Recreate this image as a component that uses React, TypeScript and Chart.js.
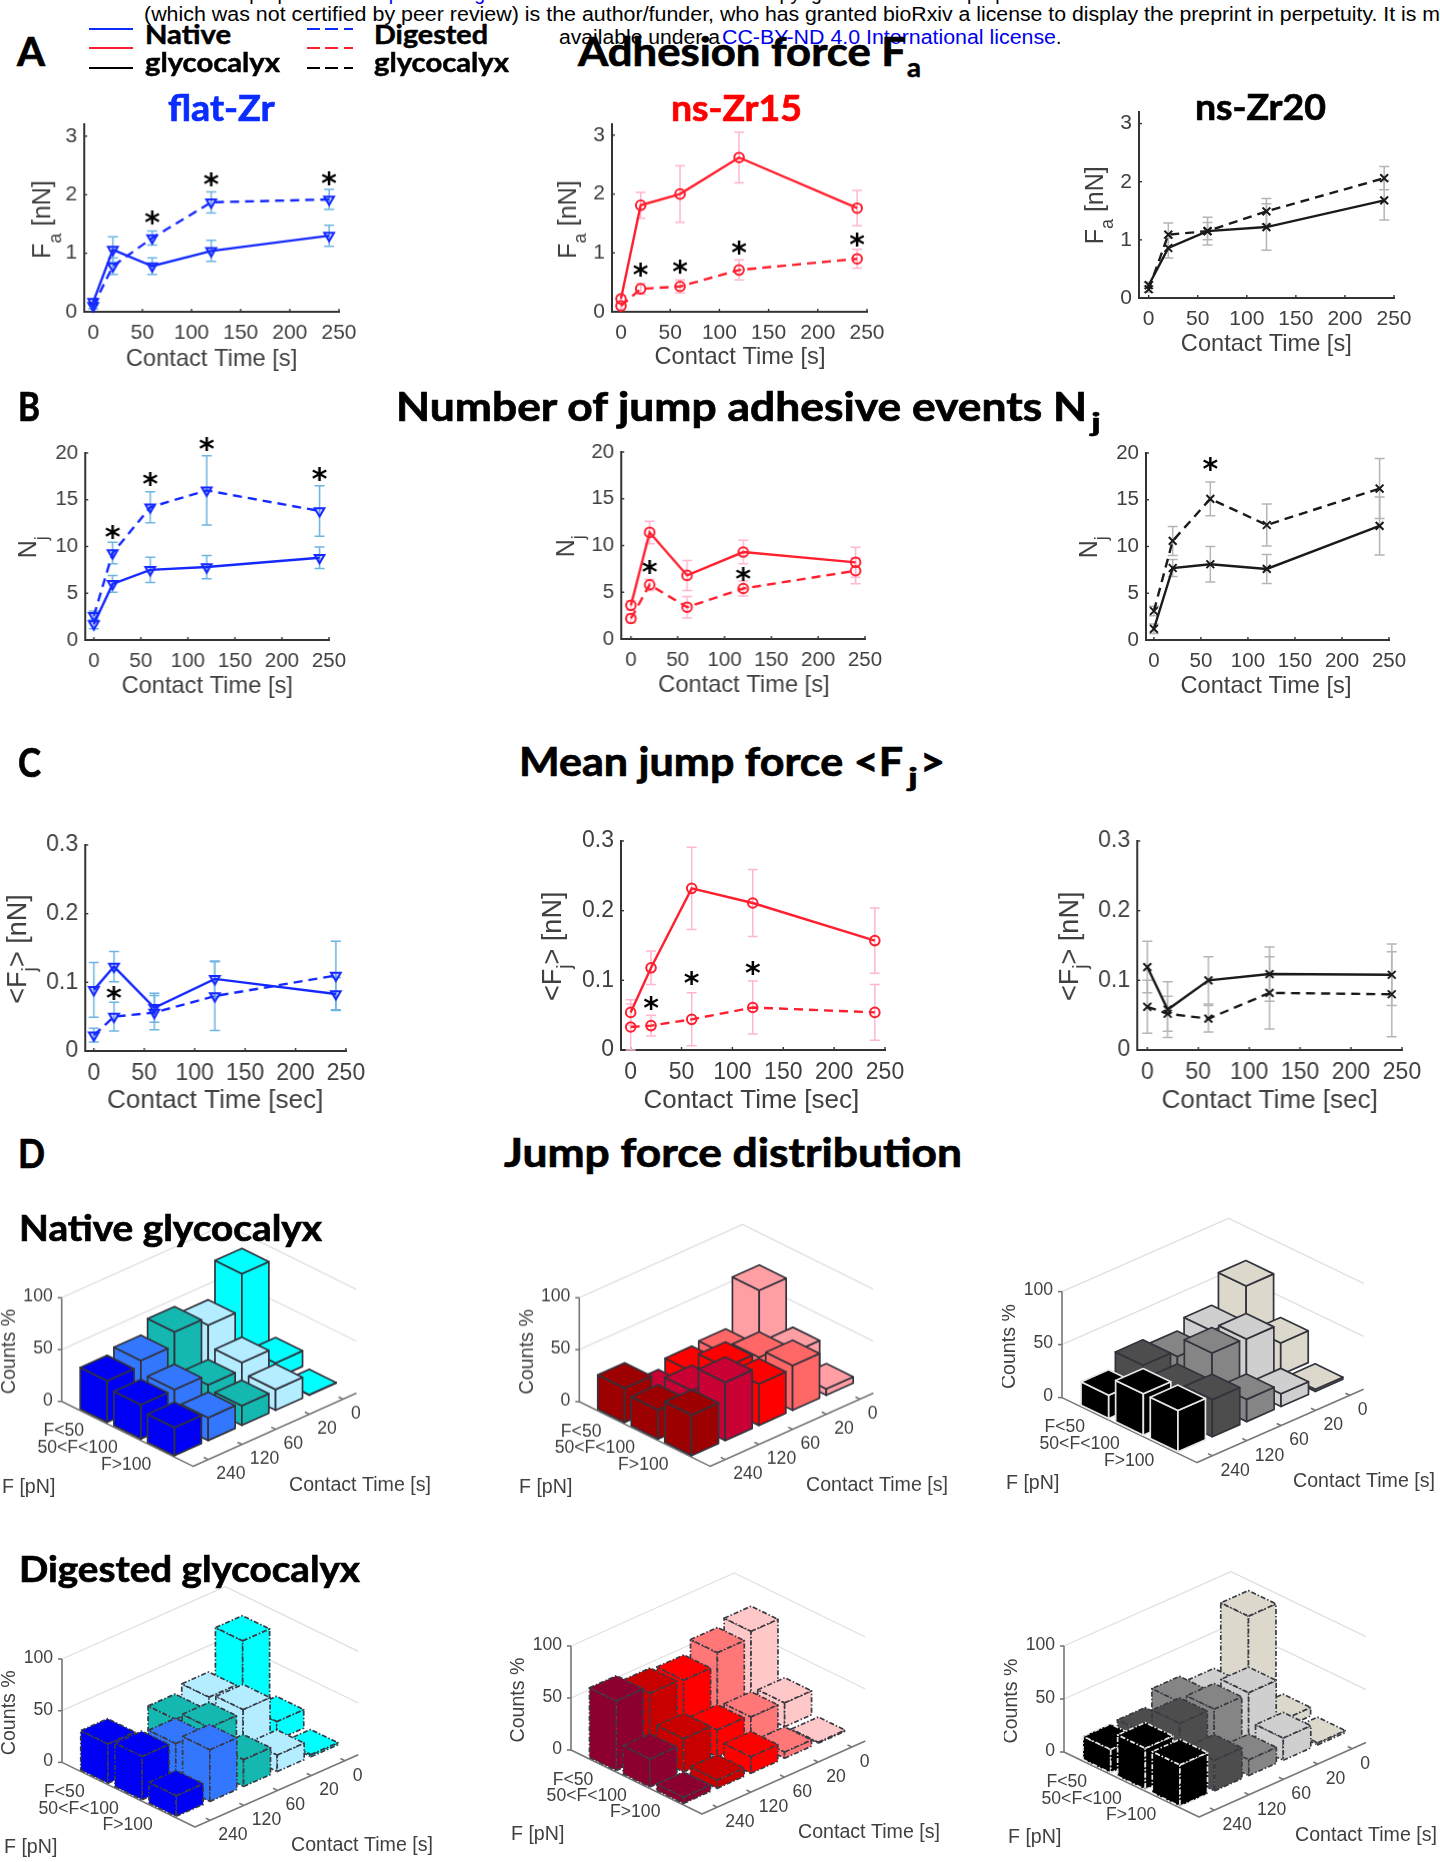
import React, { useEffect, useRef } from "react";
import { Chart, registerables } from "chart.js";
Chart.register(...registerables);

// ---------- data: line panels ----------
const TIMES = [0, 20, 60, 120, 240];

const A1_NATIVE = [0.17, 1.06, 0.78, 1.04, 1.3];
const A1_NATIVE_ERR = [0.05, 0.22, 0.14, 0.18, 0.18];
const A1_DIGESTED = [0.1, 0.78, 1.26, 1.87, 1.92];
const A1_DIGESTED_ERR = [0.05, 0.14, 0.12, 0.18, 0.17];
const A1_STAR_T = [60, 120, 240];
const A1_STAR_V = [1.61, 2.26, 2.28];

const A2_NATIVE = [0.22, 1.81, 2.0, 2.62, 1.76];
const A2_NATIVE_ERR = [0.05, 0.22, 0.48, 0.43, 0.3];
const A2_DIGESTED = [0.1, 0.39, 0.43, 0.71, 0.9];
const A2_DIGESTED_ERR = [0.05, 0.09, 0.11, 0.17, 0.16];
const A2_STAR_T = [20, 60, 120, 240];
const A2_STAR_V = [0.71, 0.76, 1.09, 1.23];

const A3_NATIVE = [0.22, 0.86, 1.15, 1.22, 1.68];
const A3_NATIVE_ERR = [0.05, 0.17, 0.24, 0.4, 0.34];
const A3_DIGESTED = [0.15, 1.09, 1.15, 1.49, 2.06];
const A3_DIGESTED_ERR = [0.05, 0.2, 0.15, 0.22, 0.2];

const B1_NATIVE = [1.7, 6.0, 7.5, 7.8, 8.8];
const B1_NATIVE_ERR = [0.5, 0.9, 1.35, 1.25, 1.15];
const B1_DIGESTED = [2.6, 9.3, 14.2, 16.0, 13.8];
const B1_DIGESTED_ERR = [0.5, 1.15, 1.65, 3.7, 2.7];
const B1_STAR_T = [20, 60, 120, 240];
const B1_STAR_V = [11.6, 17.2, 21, 17.8];

const B2_NATIVE = [3.6, 11.4, 6.8, 9.3, 8.2];
const B2_NATIVE_ERR = [0.5, 1.2, 1.6, 1.25, 1.6];
const B2_DIGESTED = [2.2, 5.8, 3.4, 5.4, 7.3];
const B2_DIGESTED_ERR = [0.5, 0.6, 1.15, 0.8, 1.4];
const B2_STAR_T = [20, 120];
const B2_STAR_V = [7.7, 7.0];

const B3_NATIVE = [1.2, 7.7, 8.1, 7.6, 12.2];
const B3_NATIVE_ERR = [0.5, 0.9, 1.9, 1.55, 3.1];
const B3_DIGESTED = [3.1, 10.6, 15.1, 12.3, 16.2];
const B3_DIGESTED_ERR = [0.5, 1.55, 1.8, 2.25, 3.2];
const B3_STAR_T = [60];
const B3_STAR_V = [18.8];

const C1_NATIVE = [0.089, 0.123, 0.063, 0.105, 0.083];
const C1_NATIVE_ERR = [0.04, 0.022, 0.021, 0.026, 0.024];
const C1_DIGESTED = [0.023, 0.05, 0.056, 0.08, 0.11];
const C1_DIGESTED_ERR = [0.01, 0.021, 0.025, 0.05, 0.05];
const C1_STAR_T = [20];
const C1_STAR_V = [0.085];

const C2_NATIVE = [0.054, 0.118, 0.232, 0.211, 0.157];
const C2_NATIVE_ERR = [0.018, 0.024, 0.059, 0.048, 0.047];
const C2_DIGESTED = [0.033, 0.035, 0.044, 0.061, 0.054];
const C2_DIGESTED_ERR = [0.033, 0.015, 0.038, 0.038, 0.04];
const C2_STAR_T = [20, 60, 120];
const C2_STAR_V = [0.067, 0.104, 0.118];

const C3_NATIVE = [0.119, 0.058, 0.1, 0.109, 0.108];
const C3_NATIVE_ERR = [0.037, 0.04, 0.034, 0.039, 0.044];
const C3_DIGESTED = [0.062, 0.052, 0.045, 0.082, 0.08];
const C3_DIGESTED_ERR = [0.038, 0.025, 0.019, 0.052, 0.061];

// ---------- data: 3-D histograms (rows: time 0,20,60,120,240; columns: F<50, 50<F<100, F>100) ----------
const FORCE_LABELS = ["F<50", "50<F<100", "F>100"];
const TIME_LABELS = ["0", "20", "60", "120", "240"];

const NATIVE_FLAT = [[85, 15, 0.5], [50, 30, 20], [58, 23, 19], [45, 33, 22], [40, 33, 27]];
const NATIVE_Z15 = [[69, 25, 6], [22, 35, 43], [20, 40, 40], [12, 32, 56], [33, 28, 39]];
const NATIVE_Z20 = [[68, 30, 2], [40, 48, 12], [30, 49, 21], [36, 29, 35], [22, 39, 39]];
const DIGESTED_FLAT = [[80, 18, 2], [40, 44, 16], [33, 41, 26], [10, 40, 50], [38, 42, 20]];
const DIGESTED_Z15 = [[76, 23, 1], [70, 24, 6], [58, 26, 16], [60, 32, 8], [67, 27, 6]];
const DIGESTED_Z20 = [[90, 8, 2], [31, 48, 21], [38, 47, 15], [23, 48, 29], [22, 39, 39]];

const BLUE_BARS = ["#00ffff", "#b3edff", "#14b8b0", "#3377ff", "#0000f5"];
const RED_BARS = ["#ff9ea3", "#ff6666", "#ff0000", "#c80033", "#9c0000"];
const GREY_BARS = ["#dcd8cc", "#cfcfcf", "#858585", "#4d4d4d", "#000000"];
const RED_BARS_DIG = ["#ffc8c8", "#ff7777", "#ff0000", "#c80000", "#8c0030"];

const SANS = '"Liberation Sans", Arial, sans-serif';
const LATO = 'Lato, "Noto Sans", sans-serif';
const AX = "#404040";

type Mark = { stroke: string; err: string; style: string; rot: number; fill: string };
const BLUE: Mark = { stroke: "#1428ff", err: "#6db4e2", style: "triangle", rot: 180, fill: "rgba(20,40,255,0.18)" };
const RED: Mark = { stroke: "#ff1f2e", err: "#ffb6cf", style: "circle", rot: 0, fill: "rgba(255,255,255,0)" };
const BLACK: Mark = { stroke: "#1a1a1a", err: "#b5b5b5", style: "crossRot", rot: 0, fill: "rgba(0,0,0,0)" };

const ROW_A = { tick: 21, title: 23.6, ytitle: 25, step: 1, yParts: ["F", "a", " [nN]"], xTitle: "Contact Time [s]" };
const ROW_B = { tick: 20.5, title: 23.6, ytitle: 25, step: 5, yParts: ["N", "j", ""], xTitle: "Contact Time [s]" };
const ROW_C = { tick: 23, title: 26, ytitle: 27, step: 0.1, yParts: ["<F", "j", "> [nN]"], xTitle: "Contact Time [sec]" };

const LINE_PANELS = [
  { ...ROW_A, mark: BLUE, axisX: 84, x0: 93, x250: 338.8, y0: 311.7, tv: 3, tp: 136, top: 124, native: A1_NATIVE, nativeErr: A1_NATIVE_ERR, dig: A1_DIGESTED, digErr: A1_DIGESTED_ERR, st: A1_STAR_T, sv: A1_STAR_V, titleCx: 211, titleBase: 365, yx: 43.6, ycy: 219 },
  { ...ROW_A, mark: RED, axisX: 612, x0: 621, x250: 867, y0: 311.7, tv: 3, tp: 135, top: 124, native: A2_NATIVE, nativeErr: A2_NATIVE_ERR, dig: A2_DIGESTED, digErr: A2_DIGESTED_ERR, st: A2_STAR_T, sv: A2_STAR_V, titleCx: 740, titleBase: 363, yx: 569, ycy: 219 },
  { ...ROW_A, mark: BLACK, axisX: 1138.7, x0: 1148.4, x250: 1394, y0: 298.3, tv: 3, tp: 123.3, top: 111.7, native: A3_NATIVE, nativeErr: A3_NATIVE_ERR, dig: A3_DIGESTED, digErr: A3_DIGESTED_ERR, st: [], sv: [], titleCx: 1266, titleBase: 351, yx: 1096, ycy: 205 },
  { ...ROW_B, mark: BLUE, axisX: 85.4, x0: 94, x250: 328.7, y0: 640, tv: 20, tp: 452.7, top: 452.7, native: B1_NATIVE, nativeErr: B1_NATIVE_ERR, dig: B1_DIGESTED, digErr: B1_DIGESTED_ERR, st: B1_STAR_T, sv: B1_STAR_V, titleCx: 207, titleBase: 693, yx: 30, ycy: 547 },
  { ...ROW_B, mark: RED, axisX: 620.7, x0: 630.4, x250: 864.6, y0: 639, tv: 20, tp: 451.7, top: 451.7, native: B2_NATIVE, nativeErr: B2_NATIVE_ERR, dig: B2_DIGESTED, digErr: B2_DIGESTED_ERR, st: B2_STAR_T, sv: B2_STAR_V, titleCx: 743, titleBase: 692, yx: 567, ycy: 546 },
  { ...ROW_B, mark: BLACK, axisX: 1146, x0: 1153.9, x250: 1389, y0: 640, tv: 20, tp: 452.7, top: 452.7, native: B3_NATIVE, nativeErr: B3_NATIVE_ERR, dig: B3_DIGESTED, digErr: B3_DIGESTED_ERR, st: B3_STAR_T, sv: B3_STAR_V, titleCx: 1266, titleBase: 693, yx: 1090, ycy: 547 },
  { ...ROW_C, mark: BLUE, axisX: 85.4, x0: 94, x250: 345.7, y0: 1051, tv: 0.3, tp: 845, top: 845, native: C1_NATIVE, nativeErr: C1_NATIVE_ERR, dig: C1_DIGESTED, digErr: C1_DIGESTED_ERR, st: C1_STAR_T, sv: C1_STAR_V, titleCx: 215, titleBase: 1108, yx: 19, ycy: 949 },
  { ...ROW_C, mark: RED, axisX: 620.7, x0: 630.4, x250: 885.3, y0: 1050, tv: 0.3, tp: 840.7, top: 840.7, native: C2_NATIVE, nativeErr: C2_NATIVE_ERR, dig: C2_DIGESTED, digErr: C2_DIGESTED_ERR, st: C2_STAR_T, sv: C2_STAR_V, titleCx: 751, titleBase: 1108, yx: 553, ycy: 946 },
  { ...ROW_C, mark: BLACK, axisX: 1136.9, x0: 1147, x250: 1401.8, y0: 1050, tv: 0.3, tp: 840.7, top: 840.7, native: C3_NATIVE, nativeErr: C3_NATIVE_ERR, dig: C3_DIGESTED, digErr: C3_DIGESTED_ERR, st: [], sv: [], titleCx: 1269, titleBase: 1108, yx: 1070, ycy: 946 },
];

const BAR_PANELS = [
  { front: [193.3, 1465.7], left: [62, 1401], right: [356.7, 1392.7], top: 1297.3, heights: NATIVE_FLAT, colors: BLUE_BARS, dashed: false },
  { front: [710, 1465.7], left: [579.3, 1401.3], right: [873.3, 1392.7], top: 1297.3, heights: NATIVE_Z15, colors: RED_BARS, dashed: false },
  { front: [1196.7, 1462.3], left: [1061.7, 1397.3], right: [1363.3, 1389], top: 1290.7, heights: NATIVE_Z20, colors: GREY_BARS, dashed: false },
  { front: [195, 1827.3], left: [62, 1762.7], right: [358.3, 1755], top: 1659.3, heights: DIGESTED_FLAT, colors: BLUE_BARS, dashed: true },
  { front: [701.7, 1814], left: [570.7, 1750], right: [865, 1741], top: 1646, heights: DIGESTED_Z15, colors: RED_BARS_DIG, dashed: true },
  { front: [1199, 1816.7], left: [1064, 1751.7], right: [1366, 1742.3], top: 1645.7, heights: DIGESTED_Z20, colors: GREY_BARS, dashed: true },
];

// ---------- line chart ----------
function LinePanel({ p }: { p: any }) {
  const ref = useRef<HTMLCanvasElement>(null);
  const PADL = 85, PADT = 45, PADR = 35, PADB = 70;
  const L = p.axisX - PADL;
  const T = p.top - PADT;
  const W = PADL + (p.x250 - p.axisX) + PADR;
  const H = PADT + (p.y0 - p.top) + PADB;
  useEffect(() => {
    const perUnit = (p.x250 - p.x0) / 250;
    const xMin = -(p.x0 - p.axisX) / perUnit;
    const yMax = (p.tv * (p.y0 - p.top)) / (p.y0 - p.tp);
    const zip = (xs: number[], ys: number[]) => xs.map((x, i) => ({ x, y: ys[i] }));
    const common = {
      borderColor: p.mark.stroke,
      pointStyle: p.mark.style,
      pointRotation: p.mark.rot,
      pointRadius: p.mark.style === "crossRot" ? 5.5 : p.mark.style === "triangle" ? 5.6 : 4.8,
      pointBorderWidth: 2,
      pointBorderColor: p.mark.stroke,
      pointBackgroundColor: p.mark.fill,
      borderWidth: 2.4,
      tension: 0,
      clip: false,
      fill: false,
    };
    const plugin = {
      id: "matlabBits",
      beforeDatasetsDraw(chart: any) {
        const { ctx, scales } = chart;
        const { x, y } = scales;
        ctx.save();
        ctx.strokeStyle = "#333";
        ctx.lineWidth = 1.4;
        x.ticks.forEach((t: any) => {
          const px = x.getPixelForValue(t.value);
          ctx.beginPath(); ctx.moveTo(px, y.bottom); ctx.lineTo(px, y.bottom - 3); ctx.stroke();
        });
        y.ticks.forEach((t: any) => {
          const py = y.getPixelForValue(t.value);
          ctx.beginPath(); ctx.moveTo(x.left, py); ctx.lineTo(x.left + 3, py); ctx.stroke();
        });
        // error bars
        ctx.strokeStyle = p.mark.err;
        ctx.lineWidth = 1.5;
        chart.data.datasets.forEach((d: any) => {
          if (!d.errs) return;
          d.data.forEach((pt: any, i: number) => {
            const px = x.getPixelForValue(pt.x);
            const hi = y.getPixelForValue(pt.y + d.errs[i]);
            const lo = y.getPixelForValue(pt.y - d.errs[i]);
            ctx.beginPath();
            ctx.moveTo(px, hi); ctx.lineTo(px, lo);
            ctx.moveTo(px - 5, hi); ctx.lineTo(px + 5, hi);
            ctx.moveTo(px - 5, lo); ctx.lineTo(px + 5, lo);
            ctx.stroke();
          });
        });
        ctx.restore();
      },
      afterDatasetsDraw(chart: any) {
        const { ctx, scales } = chart;
        const { x, y } = scales;
        ctx.save();
        // significance stars
        ctx.fillStyle = "#000";
        ctx.font = 'bold 30px "DejaVu Sans"';
        ctx.textAlign = "center";
        ctx.textBaseline = "alphabetic";
        chart.data.datasets.forEach((d: any) => {
          if (!d.isStar) return;
          d.data.forEach((pt: any) => {
            ctx.fillText("*", x.getPixelForValue(pt.x), y.getPixelForValue(pt.y) + 15);
          });
        });
        // x title
        ctx.fillStyle = AX;
        ctx.font = `${p.title}px ${SANS}`;
        ctx.fillText(p.xTitle, p.titleCx - L, p.titleBase - T);
        // y title with subscript
        const [a, b, c] = p.yParts;
        const big = `${p.ytitle}px ${SANS}`;
        const small = `${p.ytitle * 0.72}px ${SANS}`;
        ctx.font = big;
        const wa = ctx.measureText(a).width;
        const wc = ctx.measureText(c).width;
        ctx.font = small;
        const wb = ctx.measureText(b).width;
        const total = wa + wb + wc;
        ctx.translate(p.yx - L, p.ycy - T);
        ctx.rotate(-Math.PI / 2);
        ctx.textAlign = "left";
        ctx.textBaseline = "middle";
        ctx.font = big;
        ctx.fillText(a, -total / 2, 0);
        ctx.font = small;
        ctx.fillText(b, -total / 2 + wa, 12);
        ctx.font = big;
        ctx.fillText(c, -total / 2 + wa + wb, 0);
        ctx.restore();
      },
    };
    const chart = new Chart(ref.current as any, {
      type: "line",
      data: {
        datasets: [
          { ...common, label: "Native", data: zip(TIMES, p.native), errs: p.nativeErr },
          { ...common, label: "Digested", data: zip(TIMES, p.dig), errs: p.digErr, borderDash: [9, 6] },
          { label: "Significant", data: zip(p.st, p.sv), isStar: true, showLine: false, pointRadius: 0, clip: false },
        ] as any,
      },
      options: {
        animation: false,
        responsive: false,
        devicePixelRatio: 1,
        layout: { padding: { left: 0, top: PADT, right: PADR, bottom: 0 } },
        plugins: { legend: { display: false }, tooltip: { enabled: false } },
        scales: {
          x: {
            type: "linear",
            min: xMin,
            max: 250,
            afterFit: (s: any) => { s.height = PADB; },
            grid: { display: false, drawTicks: false },
            border: { display: true, color: "#333", width: 2 },
            ticks: { includeBounds: false, stepSize: 50, padding: 9, color: AX, maxRotation: 0, autoSkip: false, font: { family: SANS, size: p.tick } },
          },
          y: {
            type: "linear",
            min: 0,
            max: yMax,
            afterFit: (s: any) => { s.width = PADL; },
            grid: { display: false, drawTicks: false },
            border: { display: true, color: "#333", width: 2 },
            ticks: {
              includeBounds: false, stepSize: p.step, padding: 7, color: AX, autoSkip: false, font: { family: SANS, size: p.tick },
              callback: (v: any) => String(Number(Number(v).toFixed(1))),
            },
          },
        },
      } as any,
      plugins: [plugin],
    });
    return () => chart.destroy();
  }, []);
  return <canvas ref={ref} width={W} height={H} style={{ position: "absolute", left: L, top: T, width: W, height: H, filter: "blur(0.5px)" }} />;
}

// ---------- 3-D histogram ----------
function BarPanel({ p }: { p: any }) {
  const ref = useRef<HTMLCanvasElement>(null);
  const L = p.front[0] - 195;
  const PADT = 95;
  const T = p.top - PADT;
  const W = 445;
  const H = p.front[1] + 42 - T;
  useEffect(() => {
    const fx = 195, fy = p.front[1] - T;
    const lx = p.left[0] - p.front[0], ly = p.left[1] - p.front[1];
    const rx = p.right[0] - p.front[0], ry = p.right[1] - p.front[1];
    const HALF = 0.4;
    const plugin = {
      id: "bars3d",
      afterDatasetsDraw(chart: any) {
        const { ctx, scales } = chart;
        const { t, f, y } = scales;
        const P = (a: number, b: number, h: number) => {
          const u = (t.getPixelForValue(a) - t.left) / t.width;
          const v = (f.getPixelForValue(b) - f.left) / f.width;
          return [fx + u * rx + v * lx, fy + u * ry + v * ly + (y.getPixelForValue(h) - y.getPixelForValue(0))];
        };
        const A0 = t.max, B0 = f.max;
        const poly = (pts: number[][]) => {
          ctx.beginPath();
          pts.forEach((q, i) => (i ? ctx.lineTo(q[0], q[1]) : ctx.moveTo(q[0], q[1])));
          ctx.closePath();
        };
        ctx.save();
        ctx.lineJoin = "round";
        // back walls
        ctx.strokeStyle = "#e0e0e0";
        ctx.lineWidth = 1.3;
        [50, 100].forEach((lvl) => {
          const a = P(0, B0, lvl), b = P(A0, B0, lvl), c = P(A0, 0, lvl);
          ctx.beginPath(); ctx.moveTo(a[0], a[1]); ctx.lineTo(b[0], b[1]); ctx.lineTo(c[0], c[1]); ctx.stroke();
        });
        // axes
        ctx.strokeStyle = "#777";
        ctx.lineWidth = 1.6;
        const pl = P(0, B0, 0), pf = P(0, 0, 0), pr = P(A0, 0, 0);
        ctx.beginPath(); ctx.moveTo(pl[0], pl[1] + (y.getPixelForValue(100) - y.getPixelForValue(0))); ctx.lineTo(pl[0], pl[1]); ctx.lineTo(pf[0], pf[1]); ctx.lineTo(pr[0], pr[1]); ctx.stroke();
        ctx.fillStyle = AX;
        ctx.textBaseline = "middle";
        ctx.font = `17.6px ${SANS}`;
        ctx.textAlign = "right";
        [0, 50, 100].forEach((lvl) => {
          const q = P(0, B0, lvl);
          ctx.beginPath(); ctx.moveTo(q[0], q[1]); ctx.lineTo(q[0] - 4, q[1]); ctx.stroke();
          ctx.fillText(String(lvl), q[0] - 9, q[1] - 1);
        });
        ctx.textAlign = "left";
        TIME_LABELS.forEach((lab, i) => {
          const a = 4.45 - i;
          const q = P(a, 0, 0), q2 = P(a, 0.13, 0);
          ctx.beginPath(); ctx.moveTo(q[0], q[1]); ctx.lineTo(q2[0], q2[1]); ctx.stroke();
          ctx.fillText(lab, q[0] + 8, q[1] + 15);
        });
        ctx.textAlign = "right";
        FORCE_LABELS.forEach((lab, k) => {
          const b = 3 - k;
          const q = P(0, b, 0), q2 = P(0.13, b, 0);
          ctx.beginPath(); ctx.moveTo(q[0], q[1]); ctx.lineTo(q2[0], q2[1]); ctx.stroke();
          ctx.fillText(lab, q[0] - 8, q[1] + 15);
        });
        ctx.font = `19.6px ${SANS}`;
        ctx.textAlign = "left";
        ctx.fillText("F [pN]", fx - 191, fy + 21);
        ctx.fillText("Contact Time [s]", fx + 96, fy + 19);
        ctx.save();
        ctx.translate(pl[0] - 52, pl[1] + (y.getPixelForValue(50) - y.getPixelForValue(0)) + 2);
        ctx.rotate(-Math.PI / 2);
        ctx.textAlign = "center";
        ctx.fillText("Counts %", 0, 0);
        ctx.restore();
        // bars, back to front
        chart.data.datasets.forEach((d: any, i: number) => {
          const a = 4.45 - i;
          d.data.forEach((h: number, k: number) => {
            const b = 3 - k;
            const p0 = (z: number) => P(a - HALF, b - HALF, z);
            const p1 = (z: number) => P(a + HALF, b - HALF, z);
            const p2 = (z: number) => P(a + HALF, b + HALF, z);
            const p3 = (z: number) => P(a - HALF, b + HALF, z);
            ctx.fillStyle = d.faceColor;
            ctx.strokeStyle = d.edgeColor;
            ctx.lineWidth = 1.7;
            ctx.setLineDash(p.dashed ? [5, 2, 1.5, 2] : []);
            [
              [p3(0), p0(0), p0(h), p3(h)],
              [p0(0), p1(0), p1(h), p0(h)],
              [p0(h), p1(h), p2(h), p3(h)],
            ].forEach((face) => {
              poly(face);
              ctx.fill();
              ctx.stroke();
            });
          });
        });
        ctx.restore();
      },
    };
    const chart = new Chart(ref.current as any, {
      type: "bar",
      data: {
        labels: FORCE_LABELS,
        datasets: p.heights.map((row: number[], i: number) => ({
          label: TIME_LABELS[i],
          data: row,
          backgroundColor: "rgba(0,0,0,0)",
          borderWidth: 0,
          faceColor: p.colors[i],
          edgeColor: p.colors[i] === "#000000" ? "#e6e6e6" : p.dashed ? "#3a3a44" : "#33333d",
        })),
      },
      options: {
        animation: false,
        responsive: false,
        devicePixelRatio: 1,
        layout: { padding: { left: 0, right: 0, top: PADT, bottom: H - PADT - (p.left[1] - p.top) } },
        plugins: { legend: { display: false }, tooltip: { enabled: false } },
        scales: {
          x: { display: false },
          y: { display: false, min: 0, max: 100 },
          t: { type: "linear", axis: "x", display: false, offset: false, min: 0, max: 4.85 },
          f: { type: "linear", axis: "x", display: false, offset: false, min: 0, max: 3.9 },
        },
      } as any,
      plugins: [plugin],
    });
    return () => chart.destroy();
  }, []);
  return <canvas ref={ref} width={W} height={H} style={{ position: "absolute", left: L, top: T, width: W, height: H, filter: "blur(0.6px)" }} />;
}

// ---------- page text ----------
const measureCtx = document.createElement("canvas").getContext("2d") as CanvasRenderingContext2D;

function Txt({ x, base, size, text, w, color = "#000", sans = false }: any) {
  const fam = sans ? SANS : LATO;
  const weight = sans ? "normal" : "bold";
  measureCtx.font = `${weight} ${size}px ${fam}`;
  const sx = w ? w / measureCtx.measureText(text).width : 1;
  const k = sans ? 0.3465 : 0.387;
  const stroke = sans ? {} : { WebkitTextStroke: `${size > 30 ? 0.7 : 0.5}px ${color}` };
  return (
    <div style={{ position: "absolute", left: x, top: base - k * size, fontFamily: fam, fontWeight: weight as any, fontSize: size, lineHeight: 0, color, whiteSpace: "pre", transform: `scaleX(${sx})`, transformOrigin: "left", ...stroke }}>
      {text}
    </div>
  );
}

const LEGEND_COLORS = ["#0a2cff", "#ff1f2e", "#000000"];
const LEGEND_Y = [29, 48, 68];

export default function App() {
  return (
    <div style={{ position: "absolute", left: 0, top: 0, width: 1440, height: 1862, overflow: "hidden", background: "#fff" }}>
      {/* preprint header */}
      <Txt sans x={180} base={0} size={19.5} text="bioRxiv preprint doi: " />
      <Txt sans x={367} base={0} size={19.5} color="#0000ee" text="https://doi.org/" />
      <Txt sans x={720} base={0} size={19.5} text="The copyright holder for this preprint" />
      <Txt sans x={143.7} base={21} size={19.5} w={576} text="(which was not certified by peer review) is the author/funder, " />
      <Txt sans x={720} base={21} size={19.5} w={720} text="who has granted bioRxiv a license to display the preprint in perpetuity. It is m" />
      <Txt sans x={559} base={43.3} size={19.5} w={161} text="available under a" />
      <Txt sans x={721.5} base={43.3} size={19.5} w={334} color="#0000ee" text="CC-BY-ND 4.0 International license" />
      <Txt sans x={1056} base={43.3} size={19.5} text="." />

      {LINE_PANELS.map((p, i) => <LinePanel key={i} p={p} />)}
      {BAR_PANELS.map((p, i) => <BarPanel key={i} p={p} />)}

      {/* legend */}
      {LEGEND_Y.map((y, i) => (
        <React.Fragment key={i}>
          <div style={{ position: "absolute", left: 88.6, top: y - 1, width: 44.5, height: 2.4, background: LEGEND_COLORS[i] }} />
          <div style={{ position: "absolute", left: 307, top: y - 1, width: 46, height: 2.4, background: `repeating-linear-gradient(90deg, ${LEGEND_COLORS[i]} 0 13px, transparent 13px 18.5px)` }} />
        </React.Fragment>
      ))}
      <Txt x={145} base={44} size={27} w={86} text="Native" />
      <Txt x={145} base={72.7} size={27} w={135} text="glycocalyx" />
      <Txt x={374} base={44} size={27} w={114} text="Digested" />
      <Txt x={374} base={72.7} size={27} w={135} text="glycocalyx" />

      {/* section titles */}
      <Txt x={17.4} base={66} size={40} w={28} text="A" />
      <Txt x={578} base={66.7} size={40} w={328} text="Adhesion force F" />
      <Txt x={907} base={77} size={26} w={14} text="a" />
      <Txt x={167.6} base={121} size={36} w={106.5} color="#0a2cff" text="flat-Zr" />
      <Txt x={671} base={121} size={36} w={131} color="#ff0000" text="ns-Zr15" />
      <Txt x={1195} base={120} size={36} w={131} text="ns-Zr20" />

      <Txt x={18} base={421.5} size={40} w={22} text="B" />
      <Txt x={396} base={421.5} size={40} w={693} text="Number of jump adhesive events N" />
      <Txt x={1091} base={432} size={26} w={10} text="j" />

      <Txt x={18} base={777} size={40} w={23} text="C" />
      <Txt x={519} base={776.7} size={40} w={384} text="Mean jump force <F" />
      <Txt x={908} base={787} size={26} w={10} text="j" />
      <Txt x={920} base={776.7} size={40} w={25} text=">" />

      <Txt x={18} base={1168} size={40} w={27} text="D" />
      <Txt x={504} base={1167.7} size={40} w={458} text="Jump force distribution" />
      <Txt x={19} base={1240.7} size={36} w={303} text="Native glycocalyx" />
      <Txt x={19} base={1581.7} size={36} w={341} text="Digested glycocalyx" />
    </div>
  );
}
